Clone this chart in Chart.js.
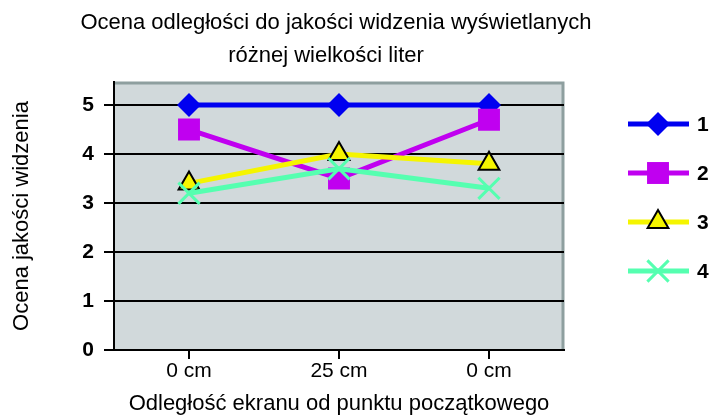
<!DOCTYPE html>
<html>
<head>
<meta charset="utf-8">
<script src="https://cdn.jsdelivr.net/npm/chart.js@4/dist/chart.umd.min.js"></script>
<style>
  body { margin: 0; background: #fff; }
  canvas { display: block; }
</style>
</head>
<body>
<canvas id="chart" width="710" height="417"></canvas>
<script>
// Data
const categories = ['0 cm', '25 cm', '0 cm'];
const seriesNames = ['1', '2', '3', '4'];
const series1 = [5, 5, 5];
const series2 = [4.5, 3.5, 4.7];
const series3 = [3.4, 4.0, 3.8];
const series4 = [3.2, 3.7, 3.3];
const yTicks = [0, 1, 2, 3, 4, 5];
const titleLines = ['Ocena odległości do jakości widzenia wyświetlanych', 'różnej wielkości liter'];

const FONT = '"Liberation Sans", Arial, sans-serif';

// plot background + gray top/right frame
const plotFrame = {
    id: 'plotFrame',
    beforeDraw(chart) {
        const { ctx, chartArea: a } = chart;
        ctx.save();
        ctx.fillStyle = '#d1d9db';
        ctx.fillRect(a.left, a.top, a.right - a.left, a.bottom - a.top);
        ctx.strokeStyle = '#8e9f9f';
        ctx.lineWidth = 3;
        ctx.beginPath();
        ctx.moveTo(a.left, a.top + 1);
        ctx.lineTo(a.right - 1, a.top + 1);
        ctx.lineTo(a.right - 1, a.bottom);
        ctx.stroke();
        ctx.restore();
    }
};

// two-line title, centred a bit left of the canvas centre like the original
const titleText = {
    id: 'titleText',
    afterDraw(chart) {
        const ctx = chart.ctx;
        ctx.save();
        ctx.fillStyle = '#000';
        ctx.font = '22px ' + FONT;
        ctx.textAlign = 'center';
        ctx.textBaseline = 'middle';
        ctx.fillText(titleLines[0], 336, 23);
        ctx.fillText(titleLines[1], 326, 56);
        ctx.restore();
    }
};

// legend on the right: line segment with marker, then label
const sideLegend = {
    id: 'sideLegend',
    afterDraw(chart) {
        const ctx = chart.ctx;
        chart.data.datasets.forEach((ds, i) => {
            const y = 124 + i * 49;
            ctx.save();
            ctx.strokeStyle = ds.borderColor;
            ctx.lineWidth = ds.borderWidth;
            ctx.beginPath();
            ctx.moveTo(628, y);
            ctx.lineTo(689, y);
            ctx.stroke();
            ctx.fillStyle = ds.pointBackgroundColor;
            ctx.strokeStyle = ds.pointBorderColor;
            ctx.lineWidth = ds.pointBorderWidth;
            Chart.helpers.drawPoint(ctx, {
                pointStyle: ds.pointStyle,
                radius: ds.pointRadius,
                rotation: 0,
                borderWidth: ds.pointBorderWidth
            }, 658, y);
            ctx.fillStyle = '#000';
            ctx.font = 'bold 21px ' + FONT;
            ctx.textAlign = 'left';
            ctx.textBaseline = 'middle';
            ctx.fillText(seriesNames[i], 697, y + 1);
            ctx.restore();
        });
    }
};

new Chart(document.getElementById('chart'), {
    type: 'line',
    data: {
        labels: categories,
        datasets: [{
            label: seriesNames[0],
            data: series1,
            borderColor: '#0000f0',
            borderWidth: 5,
            pointStyle: 'rectRot',
            pointRadius: 12,
            pointBackgroundColor: '#0000f0',
            pointBorderColor: '#0000f0',
            pointBorderWidth: 0,
            order: 4
        }, {
            label: seriesNames[1],
            data: series2,
            borderColor: '#c000f0',
            borderWidth: 5,
            pointStyle: 'rect',
            pointRadius: 15.5,
            pointBackgroundColor: '#c000f0',
            pointBorderColor: '#c000f0',
            pointBorderWidth: 0,
            order: 3
        }, {
            label: seriesNames[2],
            data: series3,
            borderColor: '#f5f500',
            borderWidth: 5,
            pointStyle: 'triangle',
            pointRadius: 12,
            pointBackgroundColor: '#f5f500',
            pointBorderColor: '#000',
            pointBorderWidth: 2,
            order: 2
        }, {
            label: seriesNames[3],
            data: series4,
            borderColor: '#55ffb0',
            borderWidth: 5,
            pointStyle: 'crossRot',
            pointRadius: 15,
            pointBackgroundColor: '#55ffb0',
            pointBorderColor: '#55ffb0',
            pointBorderWidth: 3,
            order: 1
        }]
    },
    options: {
        responsive: false,
        animation: false,
        events: [],
        layout: { padding: { top: 82, right: 146, bottom: 0, left: 0 } },
        elements: { line: { tension: 0, fill: false } },
        plugins: {
            legend: { display: false },
            title: { display: false },
            tooltip: { enabled: false }
        },
        scales: {
            x: {
                offset: true,
                afterFit: s => { s.height = 67; },
                grid: {
                    drawOnChartArea: false,
                    drawTicks: true,
                    tickLength: 9,
                    color: '#000',
                    lineWidth: 2
                },
                border: { color: '#000', width: 2 },
                ticks: {
                    color: '#000',
                    padding: 0,
                    font: { family: FONT, size: 21 }
                },
                title: {
                    display: true,
                    text: 'Odległość ekranu od punktu początkowego',
                    color: '#000',
                    padding: { top: 0, bottom: 0 },
                    font: { family: FONT, size: 22 }
                }
            },
            y: {
                min: 0,
                max: 5.47,
                afterFit: s => { s.width = 114; },
                afterBuildTicks: s => { s.ticks = yTicks.map(v => ({ value: v })); },
                grid: {
                    color: '#000',
                    lineWidth: 2,
                    tickLength: 10
                },
                border: { color: '#000', width: 2 },
                ticks: {
                    color: '#000',
                    padding: 10,
                    font: { family: FONT, size: 21, weight: 'bold' }
                },
                title: {
                    display: true,
                    text: 'Ocena jakości widzenia',
                    color: '#000',
                    padding: { top: 9, bottom: 0 },
                    font: { family: FONT, size: 22 }
                }
            }
        }
    },
    plugins: [plotFrame, titleText, sideLegend]
});
</script>
</body>
</html>
